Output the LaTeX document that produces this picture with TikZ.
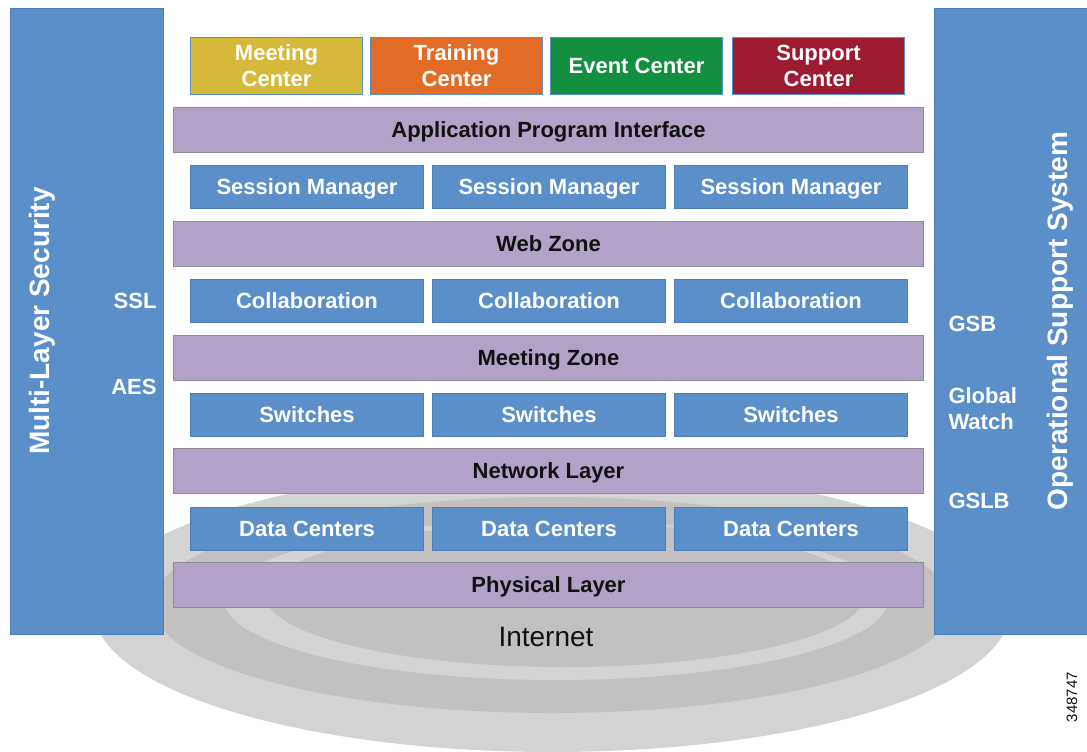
\documentclass[tikz,border=0pt]{standalone}
\usepackage{fontspec}
\setmainfont{Liberation Sans}
\usetikzlibrary{positioning}
\definecolor{BlueFill}{HTML}{5B8FCA}
\definecolor{BlueEdge}{HTML}{4A7EBB}
\definecolor{LayerFill}{HTML}{B2A2C7}
\definecolor{LayerEdge}{HTML}{8C8C8C}
\definecolor{MeetingGold}{HTML}{D6B83B}
\definecolor{TrainingOrange}{HTML}{E26B25}
\definecolor{EventGreen}{HTML}{12903F}
\definecolor{SupportRed}{HTML}{9C1B31}
\definecolor{RingLight}{HTML}{D3D3D3}
\definecolor{RingDark}{HTML}{C2C1BF}
\definecolor{TextDark}{HTML}{111111}

\begin{document}
\begin{tikzpicture}[
  x=1pt, y=-1pt,
  line width=1pt,
  font=\fontsize{22}{26}\selectfont\bfseries,
  side/.style={draw=BlueEdge, fill=BlueFill, anchor=north west, minimum width=153pt, minimum height=626pt, inner sep=0pt},
  sidetitle/.style={rotate=90, text=white, inner sep=0pt, font=\fontsize{28}{32}\selectfont\bfseries},
  sidenote/.style={text=white, align=left, inner sep=0pt},
  app/.style={draw=BlueFill, anchor=north west, minimum width=172pt, minimum height=57pt, align=center, text=white, inner sep=0pt},
  layer/.style={draw=LayerEdge, fill=LayerFill, anchor=north west, minimum width=750pt, minimum height=45pt, text height=15.8pt, text depth=0pt, text=TextDark, inner sep=0pt},
  unit/.style={draw=BlueEdge, fill=BlueFill, anchor=north west, minimum width=233pt, minimum height=43pt, text height=15.8pt, text depth=0pt, text=white, inner sep=0pt}
]
  \useasboundingbox (0,0) rectangle (1087,752);

  \fill[RingLight] (552,610) ellipse [x radius=458pt, y radius=142pt];
  \fill[RingDark] (552,605) ellipse [x radius=400pt, y radius=108pt];
  \fill[RingLight] (556,600) ellipse [x radius=332pt, y radius=80pt];
  \fill[RingDark] (565,595) ellipse [x radius=300pt, y radius=72pt];
  \node[font=\fontsize{28}{32}\selectfont, text=TextDark] (internet) at (546,637) {Internet};

  \node[side] (mlsbar) at (10,8) {};
  \node[side] (ossbar) at (934,8) {};
  \node[sidetitle] (mls) at (42,321) {Multi-Layer Security};
  \node[sidetitle] (oss) at (1060,321) {Operational Support System};
  \node[sidenote, anchor=east] (ssl) at (157,301) {SSL};
  \node[sidenote, anchor=east] (aes) at (157,387) {AES};
  \node[sidenote, anchor=west] (gsb) at (948,324) {GSB};
  \node[sidenote, anchor=west] (gwatch) at (948,409) {Global\\Watch};
  \node[sidenote, anchor=west] (gslb) at (948,501) {GSLB};

  \node[app, fill=MeetingGold] (meeting) at (190,37) {Meeting\\Center};
  \node[app, fill=TrainingOrange, right=7pt of meeting] (training) {Training\\Center};
  \node[app, fill=EventGreen, right=7pt of training] (event) {Event Center};
  \node[app, fill=SupportRed, right=9pt of event] (support) {Support\\Center};

  \node[layer] (api) at (173,107) {Application Program Interface};
  \node[unit] (sm1) at (190,165) {Session Manager};
  \node[unit, right=8pt of sm1] (sm2) {Session Manager};
  \node[unit, right=8pt of sm2] (sm3) {Session Manager};

  \node[layer] (web) at (173,221) {Web Zone};
  \node[unit] (col1) at (190,279) {Collaboration};
  \node[unit, right=8pt of col1] (col2) {Collaboration};
  \node[unit, right=8pt of col2] (col3) {Collaboration};

  \node[layer] (mzone) at (173,335) {Meeting Zone};
  \node[unit] (sw1) at (190,393) {Switches};
  \node[unit, right=8pt of sw1] (sw2) {Switches};
  \node[unit, right=8pt of sw2] (sw3) {Switches};

  \node[layer] (net) at (173,448) {Network Layer};
  \node[unit] (dc1) at (190,507) {Data Centers};
  \node[unit, right=8pt of dc1] (dc2) {Data Centers};
  \node[unit, right=8pt of dc2] (dc3) {Data Centers};

  \node[layer] (phys) at (173,562) {Physical Layer};

  \node[rotate=90, font=\fontsize{15}{18}\selectfont, text=TextDark] (figid) at (1072,697) {348747};
\end{tikzpicture}
\end{document}
